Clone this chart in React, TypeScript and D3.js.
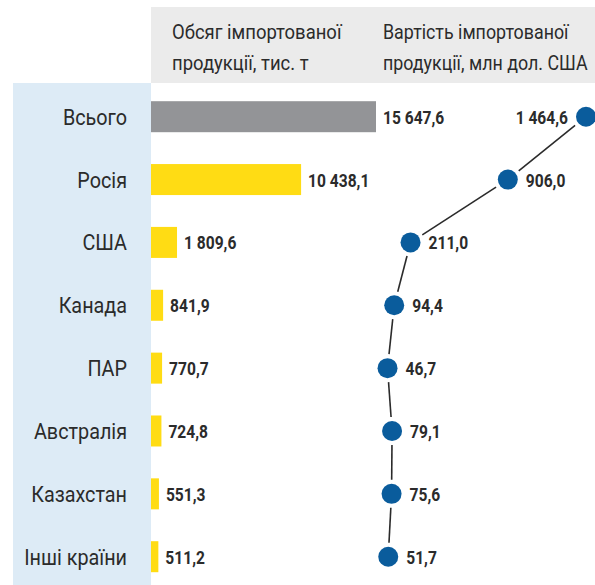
import React from "react";
import * as d3 from "d3";

const categories = ["Всього", "Росія", "США", "Канада", "ПАР", "Австралія", "Казахстан", "Інші країни"];
const volume = [15647.6, 10438.1, 1809.6, 841.9, 770.7, 724.8, 551.3, 511.2];
const value = [1464.6, 906.0, 211.0, 94.4, 46.7, 79.1, 75.6, 51.7];
const header1 = ["Обсяг імпортованої", "продукції, тис. т"];
const header2 = ["Вартість імпортованої", "продукції, млн дол. США"];

const W = 595;
const H = 585;

const fmt = (v: number) => {
  const s = v.toFixed(1).replace(".", ",");
  const [int, dec] = s.split(",");
  const grouped = int.replace(/\B(?=(\d{3})+(?!\d))/g, " ");
  return grouped + "," + dec;
};

function T({ x, y, anchor = "start", size, weight = 400, sx = 0.82, fill = "#2b2b2b", children }: any) {
  return (
    <text
      transform={`translate(${x},${y}) scale(${sx},1)`}
      textAnchor={anchor}
      fontFamily="Roboto, 'Liberation Sans', sans-serif"
      fontSize={size}
      fontWeight={weight}
      fill={fill}
    >
      {children}
    </text>
  );
}

export default function App() {
  const y = d3.scalePoint<string>().domain(categories).range([116.7, 556.7]);
  const xBar = d3.scaleLinear().domain([0, 15647.6]).range([151, 376]);
  const xDot = d3.scaleLinear().domain([0, 1464.6]).range([381, 586]);
  const barH = 31;
  const r = 10;
  const gap = 4;

  const pts = categories.map((c, i) => ({ x: xDot(value[i]), y: y(c)! }));
  const segs = pts.slice(1).map((p, i) => {
    const a = pts[i];
    const dx = p.x - a.x, dy = p.y - a.y;
    const len = Math.hypot(dx, dy);
    const ux = dx / len, uy = dy / len;
    const off = r + gap;
    return { x1: a.x + ux * off, y1: a.y + uy * off, x2: p.x - ux * off, y2: p.y - uy * off };
  });

  return (
    <svg width={W} height={H} style={{ position: "absolute", left: 0, top: 0 }}>
      <rect x={151} y={7} width={W - 151} height={76} fill="#ebebeb" />
      <rect x={13} y={83} width={138} height={H - 83} fill="#ddebf6" />
      {header1.map((t, i) => (
        <T key={"h1" + i} x={172} y={39 + i * 31} size={21} sx={0.88}>{t}</T>
      ))}
      {header2.map((t, i) => (
        <T key={"h2" + i} x={383} y={39 + i * 31} size={21} sx={0.85}>{t}</T>
      ))}
      {categories.map((c, i) => (
        <g key={c}>
          <T x={127} y={y(c)! + 8} anchor="end" size={22} sx={0.9}>{c}</T>
          <rect
            x={xBar(0)}
            y={y(c)! - barH / 2}
            width={xBar(volume[i]) - xBar(0)}
            height={barH}
            fill={i === 0 ? "#939497" : "#ffdc14"}
          />
          <T x={xBar(volume[i]) + 7} y={y(c)! + 7} size={19} weight={700}>{fmt(volume[i])}</T>
        </g>
      ))}
      {segs.map((s, i) => (
        <line key={"s" + i} x1={s.x1} y1={s.y1} x2={s.x2} y2={s.y2} stroke="#2b2b2b" strokeWidth={1.6} />
      ))}
      {pts.map((p, i) => (
        <g key={"p" + i}>
          <circle cx={p.x} cy={p.y} r={r} fill="#0a5c9c" />
          {i === 0 ? (
            <T x={p.x - r - 8} y={p.y + 7} anchor="end" size={19} weight={700}>{fmt(value[i])}</T>
          ) : (
            <T x={p.x + r + 8} y={p.y + 7} size={19} weight={700}>{fmt(value[i])}</T>
          )}
        </g>
      ))}
    </svg>
  );
}
